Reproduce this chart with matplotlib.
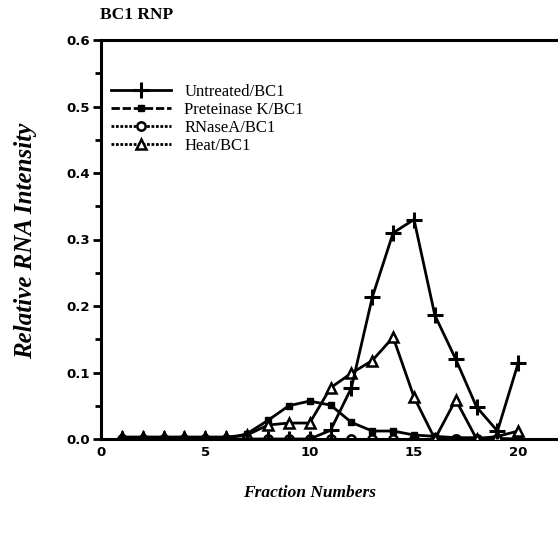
import matplotlib
matplotlib.use("Agg")
import matplotlib.pyplot as plt
from matplotlib.lines import Line2D
from matplotlib.ticker import MultipleLocator

fractions = list(range(1, 21))
untreated = [0, 0, 0, 0, 0, 0, 0, 0, 0, 0, 0.013, 0.077, 0.213, 0.31, 0.33, 0.186, 0.12, 0.048, 0.012, 0.115]
proteinase = [0, 0, 0, 0, 0, 0, 0.008, 0.028, 0.05, 0.057, 0.051, 0.025, 0.012, 0.012, 0.006, 0.004, 0.002, 0.002, 0.001, 0]
rnase = [0] * 20
heat = [0.003, 0.003, 0.003, 0.003, 0.003, 0.003, 0.006, 0.021, 0.024, 0.024, 0.077, 0.099, 0.118, 0.153, 0.063, 0.0, 0.059, 0.0, 0.004, 0.012]

labels = ["Untreated/BC1", "Preteinase K/BC1", "RNaseA/BC1", "Heat/BC1"]
title = "BC1 RNP"
xlabel = "Fraction Numbers"
ylabel = "Relative RNA Intensity"

fig = plt.figure(figsize=(5.58, 5.34), dpi=100)
ax = fig.add_axes([101/558, 1 - 439/534, 1 - 101/558, (439 - 40)/534])

lw = 2.0
ax.plot(fractions, rnase, color="black", lw=lw, marker="o", ms=6, mfc="white", mew=1.8, zorder=2)
ax.plot(fractions, proteinase, color="black", lw=lw, marker="s", ms=4.5, mfc="black", zorder=3)
ax.plot(fractions, heat, color="black", lw=lw, marker="^", ms=7, mfc="white", mew=1.8, zorder=4)
ax.plot(fractions, untreated, color="black", lw=lw, marker="+", ms=11, mew=2.2, zorder=5)

ax.set_xlim(0, 21.9)
ax.set_ylim(0, 0.6)
ax.yaxis.set_minor_locator(MultipleLocator(0.05))
ax.set_xticks([0, 5, 10, 15, 20])
ax.set_yticks([0, 0.1, 0.2, 0.3, 0.4, 0.5, 0.6])
ax.set_yticklabels(["0.0", "0.1", "0.2", "0.3", "0.4", "0.5", "0.6"])

for side in ["left", "bottom", "top"]:
    ax.spines[side].set_linewidth(2.2)
ax.spines["right"].set_visible(False)

ax.tick_params(axis="y", which="major", direction="out", length=6, width=2, labelsize=9.5, pad=2)
ax.tick_params(axis="y", which="minor", direction="out", length=4, width=2)
ax.tick_params(axis="x", which="major", direction="in", length=4, width=1.5, labelsize=9.5, pad=5)
for t in ax.get_yticklabels() + ax.get_xticklabels():
    t.set_fontfamily("DejaVu Sans")
    t.set_fontweight("bold")

fig.text(310/558, 1 - 493/534, xlabel, fontfamily="Liberation Serif", fontstyle="italic",
         fontweight="bold", fontsize=12.5, ha="center", va="center")
fig.text(26/558, 1 - 241/534, ylabel, fontfamily="Liberation Serif", fontstyle="italic",
         fontweight="bold", fontsize=18, ha="center", va="center", rotation=90)
fig.text(100/558, 1 - 15/534, title, fontfamily="Liberation Serif", fontweight="bold",
         fontsize=12.5, ha="left", va="center")

handles = [
    Line2D([], [], color="black", lw=lw, marker="+", ms=11, mew=2.2, ls="-"),
    Line2D([], [], color="black", lw=lw, marker="s", ms=4.5, ls=(0, (3, 1))),
    Line2D([], [], color="black", lw=lw, marker="o", ms=6, mfc="white", mew=1.8, ls=(0, (1, 0.6))),
    Line2D([], [], color="black", lw=lw, marker="^", ms=7, mfc="white", mew=1.8, ls=(0, (1, 0.6))),
]
leg = ax.legend(handles, labels, loc="upper left", bbox_to_anchor=(0.0, 0.915), frameon=False,
                handlelength=3.6, handletextpad=0.8, labelspacing=0.12, borderaxespad=0.2,
                prop={"family": "Liberation Serif", "size": 12})

fig.savefig("out.png", dpi=100)
